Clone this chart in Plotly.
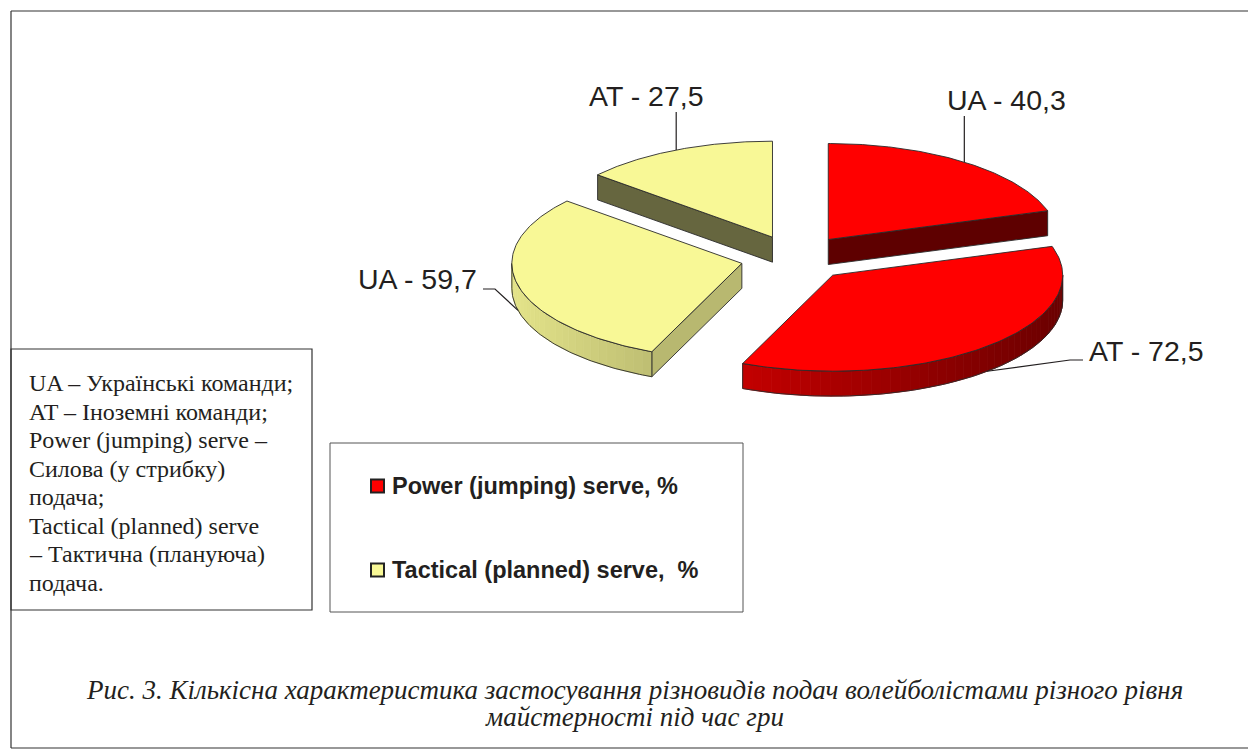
import numpy as np
import plotly.graph_objects as go

# ---------------- data ----------------
teams = ["UA", "AT"]
power_serve = [40.3, 72.5]        # Power (jumping) serve, %
tactical_serve = [59.7, 27.5]     # Tactical (planned) serve, %
series_names = ["Power (jumping) serve, %", "Tactical (planned) serve,&nbsp; %"]
note_lines = [
    "UA – Українські команди;",
    "AT – Іноземні команди;",
    "Power (jumping) serve –",
    "Силова (у стрибку)",
    "подача;",
    "Tactical (planned) serve",
    "– Тактична (плануюча)",
    "подача.",
]
caption_lines = [
    "Рис. 3. Кількісна характеристика застосування різновидів подач волейболістами різного рівня",
    "майстерності під час гри",
]

# ---------------- style / geometry ----------------
W, H = 1256, 756
OFF = 8                    # page body margin of the html page
CX, CY = 795.6, 258.1      # pie centre (px)
RX, RY = 230.0, 96.0       # ellipse radii (px)
PULL = 0.24                # explosion
DEPTH = 25.0               # thickness (px)
OUTLINE = "#2a2a2a"
TOP_COLORS = ["#FF0000", "#F8F896"]
BASE_RGB = [(255, 0, 0), (248, 248, 150)]
RADIAL_WALL = ["#5E0000", "#5E0000", "#B8B870", "#66663F"]
TEXT = "#231F20"
LABEL_POS = [(1006, 100), (1146, 351), (417, 279), (646, 96)]
LEADER_TAIL = [[(None, 116)], [(1070, 360), (1083, 360)], [(495, 289), (483, 289)], [(None, 112)]]

values = power_serve + tactical_serve
series_idx = [0, 0, 1, 1]
team_of = teams + teams
total = sum(values)
labels = [f"{t} - {v}".replace(".", ",") for t, v in zip(team_of, values)]

def pt(theta, ax, ay, dy=0.0):
    r = np.radians(theta)
    return ax + RX * np.sin(r), ay - RY * np.cos(r) + dy

def shade(s):
    return 0.92 - 0.25 * (s + 1.0)

fig = go.Figure()

def poly(xs, ys, fill, line_color=OUTLINE, lw=0.9):
    fig.add_trace(go.Scatter(x=list(xs), y=list(ys), mode="lines", fill="toself",
                             fillcolor=fill, line=dict(color=line_color, width=lw),
                             hoverinfo="skip", showlegend=False))

def outline(xs, ys, lw=0.9):
    fig.add_trace(go.Scatter(x=list(xs), y=list(ys), mode="lines",
                             line=dict(color=OUTLINE, width=lw),
                             hoverinfo="skip", showlegend=False))

slices = []
start = 0.0
for i, v in enumerate(values):
    span = 360.0 * v / total
    t1, t2 = start, start + span
    mid = (t1 + t2) / 2
    r = np.radians(mid)
    ax = CX + PULL * RX * np.sin(r)
    ay = CY - PULL * RY * np.cos(r)
    slices.append(dict(i=i, t1=t1, t2=t2, mid=mid, ax=ax, ay=ay))
    start = t2

for s in sorted(slices, key=lambda d: d["ay"]):
    i, t1, t2, ax, ay = s["i"], s["t1"], s["t2"], s["ax"], s["ay"]
    base = BASE_RGB[series_idx[i]]
    # radial walls
    for th, vis in ((t1, np.sin(np.radians(t1)) < -1e-6), (t2, np.sin(np.radians(t2)) > 1e-6)):
        if vis:
            px, py = pt(th, ax, ay)
            poly([ax, px, px, ax, ax], [ay, py, py + DEPTH, ay + DEPTH, ay], RADIAL_WALL[i])
    # outer wall (front half only)
    a, b = max(t1, 90.0), min(t2, 270.0)
    if b > a:
        n = max(2, int((b - a) / 2.5))
        ts = np.linspace(a, b, n + 1)
        for k in range(n):
            x0, y0 = pt(ts[k], ax, ay)
            x1, y1 = pt(ts[k + 1], ax, ay)
            f = shade(np.sin(np.radians((ts[k] + ts[k + 1]) / 2)))
            c = "rgb(%d,%d,%d)" % tuple(int(min(255, ch * f)) for ch in base)
            poly([x0, x1, x1, x0, x0], [y0, y1, y1 + DEPTH, y0 + DEPTH, y0], c, line_color=c, lw=0.8)
        tt = np.linspace(a, b, 80)
        topx, topy = pt(tt, ax, ay)
        outline(list(topx) + list(topx[::-1]) + [topx[0]],
                list(topy) + list((topy + DEPTH)[::-1]) + [topy[0]])
    # top face
    tt = np.linspace(t1, t2, 120)
    fx, fy = pt(tt, ax, ay)
    poly([ax] + list(fx) + [ax], [ay] + list(fy) + [ay], TOP_COLORS[series_idx[i]])

# leader lines + labels
for s in slices:
    i = s["i"]
    mid = s["mid"]
    front = np.cos(np.radians(mid)) < 0
    px, py = pt(mid, s["ax"], s["ay"], DEPTH if front else 0.0)
    xs, ys = [px], [py]
    for (tx, ty) in LEADER_TAIL[i]:
        xs.append(px if tx is None else tx)
        ys.append(ty)
    fig.add_trace(go.Scatter(x=xs, y=ys, mode="lines", line=dict(color=TEXT, width=1.2),
                             hoverinfo="skip", showlegend=False))
    lx, ly = LABEL_POS[i]
    fig.add_annotation(x=lx, y=ly, text=labels[i], showarrow=False, xanchor="center", yanchor="middle",
                       font=dict(family="Liberation Sans, Arial", size=28.5, color=TEXT))

shapes = [
    dict(type="line", x0=11, y0=11, x1=W + OFF, y1=11),
    dict(type="line", x0=11, y0=11, x1=11, y1=748),
    dict(type="line", x0=11, y0=748, x1=W + OFF, y1=748),
    dict(type="rect", x0=11, y0=349, x1=312, y1=610),
    dict(type="rect", x0=330, y0=443, x1=743, y1=612, line=dict(color="#555", width=1)),
]
for sh in shapes:
    sh.setdefault("line", dict(color="#333", width=1.2))
    sh.update(xref="x", yref="y", layer="below")
    fig.add_shape(**sh)

# legend keys
for k, name in enumerate(series_names):
    yc = [486, 570][k]
    fig.add_shape(type="rect", xref="x", yref="y", x0=371, x1=384, y0=yc - 6.5, y1=yc + 6.5,
                  fillcolor=TOP_COLORS[k], line=dict(color="#222", width=2))
    fig.add_annotation(x=390, y=yc, text="<b>%s</b>" % name, showarrow=False, xanchor="left",
                       yanchor="middle", font=dict(family="Liberation Sans, Arial", size=23.5, color=TEXT))

# note box text
for k, line in enumerate(note_lines):
    fig.add_annotation(x=27, y=383 + 28.5 * k, text=line, showarrow=False, xanchor="left",
                       yanchor="middle", font=dict(family="Liberation Serif, Times New Roman", size=24, color=TEXT))

# caption
for k, line in enumerate(caption_lines):
    fig.add_annotation(x=634, y=690 + 27 * k, text="<i>%s</i>" % line, showarrow=False, xanchor="center",
                       yanchor="middle", font=dict(family="Liberation Serif, Times New Roman", size=27, color=TEXT))

fig.update_layout(
    width=W, height=H, margin=dict(l=0, r=0, t=0, b=0),
    paper_bgcolor="white", plot_bgcolor="white", showlegend=False,
    xaxis=dict(range=[OFF, W + OFF], visible=False, fixedrange=True),
    yaxis=dict(range=[H + OFF, OFF], visible=False, fixedrange=True),
)
fig.write_html("out.html")
